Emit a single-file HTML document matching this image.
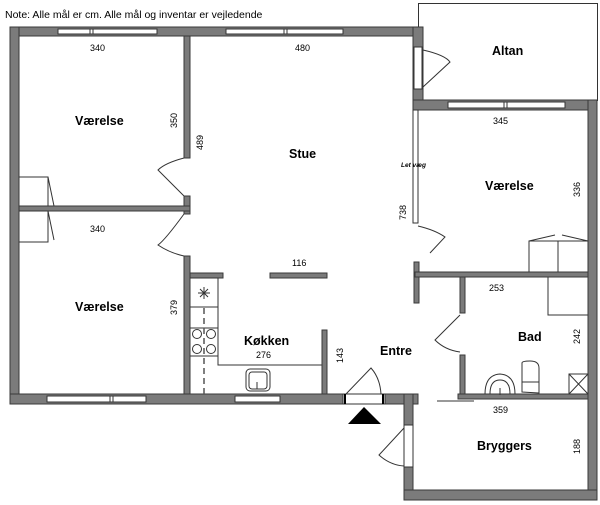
<!DOCTYPE html>
<html><head><meta charset="utf-8"><style>
html,body{margin:0;padding:0;background:#fff;}
svg{display:block;}
text{font-family:"Liberation Sans",sans-serif;fill:#000;}
.w{fill:#7b7b7b;stroke:#3a3a3a;stroke-width:1;}
.l{fill:none;stroke:#333;stroke-width:1;}
.win{fill:#fff;stroke:#333;stroke-width:1;}
.t{font-size:12.5px;font-weight:bold;}
.d{font-size:9px;}
</style></head><body>
<svg width="600" height="505" viewBox="0 0 600 505" xmlns="http://www.w3.org/2000/svg">
<text x="5" y="18" font-size="10.5">Note: Alle mål er cm. Alle mål og inventar er vejledende</text>
<rect x="418.5" y="3.5" width="179" height="97" class="l"/>
<rect x="10" y="27" width="413" height="9" class="w"/>
<rect x="10" y="27" width="9" height="377" class="w"/>
<rect x="10" y="394" width="408" height="10" class="w"/>
<rect x="413" y="27" width="10" height="83" class="w"/>
<rect x="413" y="100" width="184" height="10" class="w"/>
<rect x="588" y="100" width="9" height="400" class="w"/>
<rect x="404" y="394" width="9" height="106" class="w"/>
<rect x="404" y="490" width="193" height="10" class="w"/>
<g class="win">
<rect x="58" y="29" width="99" height="5"/><line x1="90" y1="29" x2="90" y2="34"/><line x1="93" y1="29" x2="93" y2="34"/>
<rect x="226" y="29" width="117" height="5"/><line x1="284" y1="29" x2="284" y2="34"/><line x1="287" y1="29" x2="287" y2="34"/>
<rect x="448" y="102" width="117" height="6"/><line x1="504" y1="102" x2="504" y2="108"/><line x1="507" y1="102" x2="507" y2="108"/>
<rect x="47" y="396" width="99" height="6"/><line x1="110" y1="396" x2="110" y2="402"/><line x1="113" y1="396" x2="113" y2="402"/>
<rect x="235" y="396" width="45" height="6"/>
</g>
<rect x="414" y="47" width="8" height="42" fill="#fff" stroke="#333"/>
<path class="l" d="M423 50 Q445 55 450 62 L423 87"/>
<rect x="184" y="36" width="6" height="122" class="w"/>
<rect x="184" y="196" width="6" height="18" class="w"/>
<rect x="19" y="206" width="171" height="5" class="w"/>
<rect x="184" y="256" width="6" height="138" class="w"/>
<path class="l" d="M184 158 Q165 163 158 170 L184 196"/>
<path class="l" d="M184 214 Q165 240 158 245 Q170 253 184 256"/>
<path class="l" d="M19 177 H48 V206 M19 211 H48 V242 H19 M48 177 L54 206 M48 211 L54 240"/>
<rect x="190" y="273" width="33" height="5" class="w"/>
<rect x="270" y="273" width="57" height="5" class="w"/>
<path class="l" d="M190 278 H218 V365 H322 M190 307 H218 M190 328 H218 M190 356 H218"/>
<path d="M204 308 V394" stroke="#555" stroke-width="1.5" stroke-dasharray="6,4" fill="none"/>
<path class="l" d="M198 293 H210 M204 287 V299 M200 289 L208 297 M208 289 L200 297"/>
<circle cx="197" cy="334" r="4.5" class="l"/><circle cx="211" cy="334" r="4.5" class="l"/>
<circle cx="197" cy="349" r="4.5" class="l"/><circle cx="211" cy="349" r="4.5" class="l"/>
<rect x="246" y="369" width="24" height="22" rx="4" class="l"/><rect x="249" y="372" width="18" height="17" rx="3" class="l"/>
<line x1="257" y1="382" x2="257" y2="389" class="l"/>
<rect x="322" y="330" width="5" height="64" class="w"/>
<rect x="413" y="110" width="5" height="113" fill="#fff" stroke="#333"/>
<path class="l" d="M418 226 Q435 230 445 237 L430 253"/>
<rect x="414" y="262" width="5" height="41" class="w"/>
<rect x="415" y="272" width="173" height="5" class="w"/>
<path class="l" d="M529 272 V241 H588 V272 M558 241 V272 M529 241 L555 235 M562 235 L588 241"/>
<rect x="460" y="277" width="5" height="36" class="w"/>
<rect x="460" y="355" width="5" height="42" class="w"/>
<path class="l" d="M460 315 L435 340 Q445 350 460 352"/>
<rect x="458" y="394" width="130" height="5" class="w"/>
<line x1="437" y1="401" x2="474" y2="401" class="l"/>
<path class="l" d="M548 277 V315 H588"/>
<path class="l" d="M485 394 Q485 375 500 374 Q515 375 515 394 M490 394 Q490 380 500 380 Q510 380 510 394 M500 388 V395"/>
<path class="l" d="M522 392 V363 Q522 361 530 361 Q539 361 539 368 V393 Z M522 382 H539"/>
<rect x="569" y="374" width="19" height="20" class="l"/><path class="l" d="M569 374 L588 394 M588 374 L569 394"/>
<rect x="343" y="394" width="42" height="10" fill="#fff" stroke="#333"/>
<line x1="345" y1="394" x2="345" y2="404" stroke="#000" stroke-width="2"/>
<line x1="383" y1="394" x2="383" y2="404" stroke="#000" stroke-width="2"/>
<path class="l" d="M346 394 L371 368 Q380 378 381 394"/>
<polygon points="348,424 381,424 364,407" fill="#000"/>
<rect x="404" y="425" width="9" height="42" fill="#fff" stroke="#333"/>
<path class="l" d="M404 428 L379 455 Q390 465 404 466"/>
<text x="75" y="125" class="t">Værelse</text>
<text x="75" y="311" class="t">Værelse</text>
<text x="289" y="158" class="t">Stue</text>
<text x="485" y="190" class="t">Værelse</text>
<text x="492" y="55" class="t">Altan</text>
<text x="244" y="345" class="t">Køkken</text>
<text x="380" y="355" class="t">Entre</text>
<text x="518" y="341" class="t">Bad</text>
<text x="477" y="450" class="t">Bryggers</text>
<g class="d">
<text x="90" y="51">340</text><text x="90" y="232">340</text>
<text x="295" y="51">480</text><text x="493" y="124">345</text>
<text x="292" y="266">116</text><text x="256" y="358">276</text>
<text x="489" y="291">253</text><text x="493" y="413">359</text>
</g>
<g class="d">
<text transform="translate(177,128) rotate(-90)">350</text>
<text transform="translate(203,150) rotate(-90)">489</text>
<text transform="translate(177,315) rotate(-90)">379</text>
<text transform="translate(343,363) rotate(-90)">143</text>
<text transform="translate(406,220) rotate(-90)">738</text>
<text transform="translate(580,197) rotate(-90)">336</text>
<text transform="translate(580,344) rotate(-90)">242</text>
<text transform="translate(580,454) rotate(-90)">188</text>
</g>
<text x="401" y="167" font-size="6.5" font-style="italic" font-weight="bold">Let væg</text>
</svg>
</body></html>
